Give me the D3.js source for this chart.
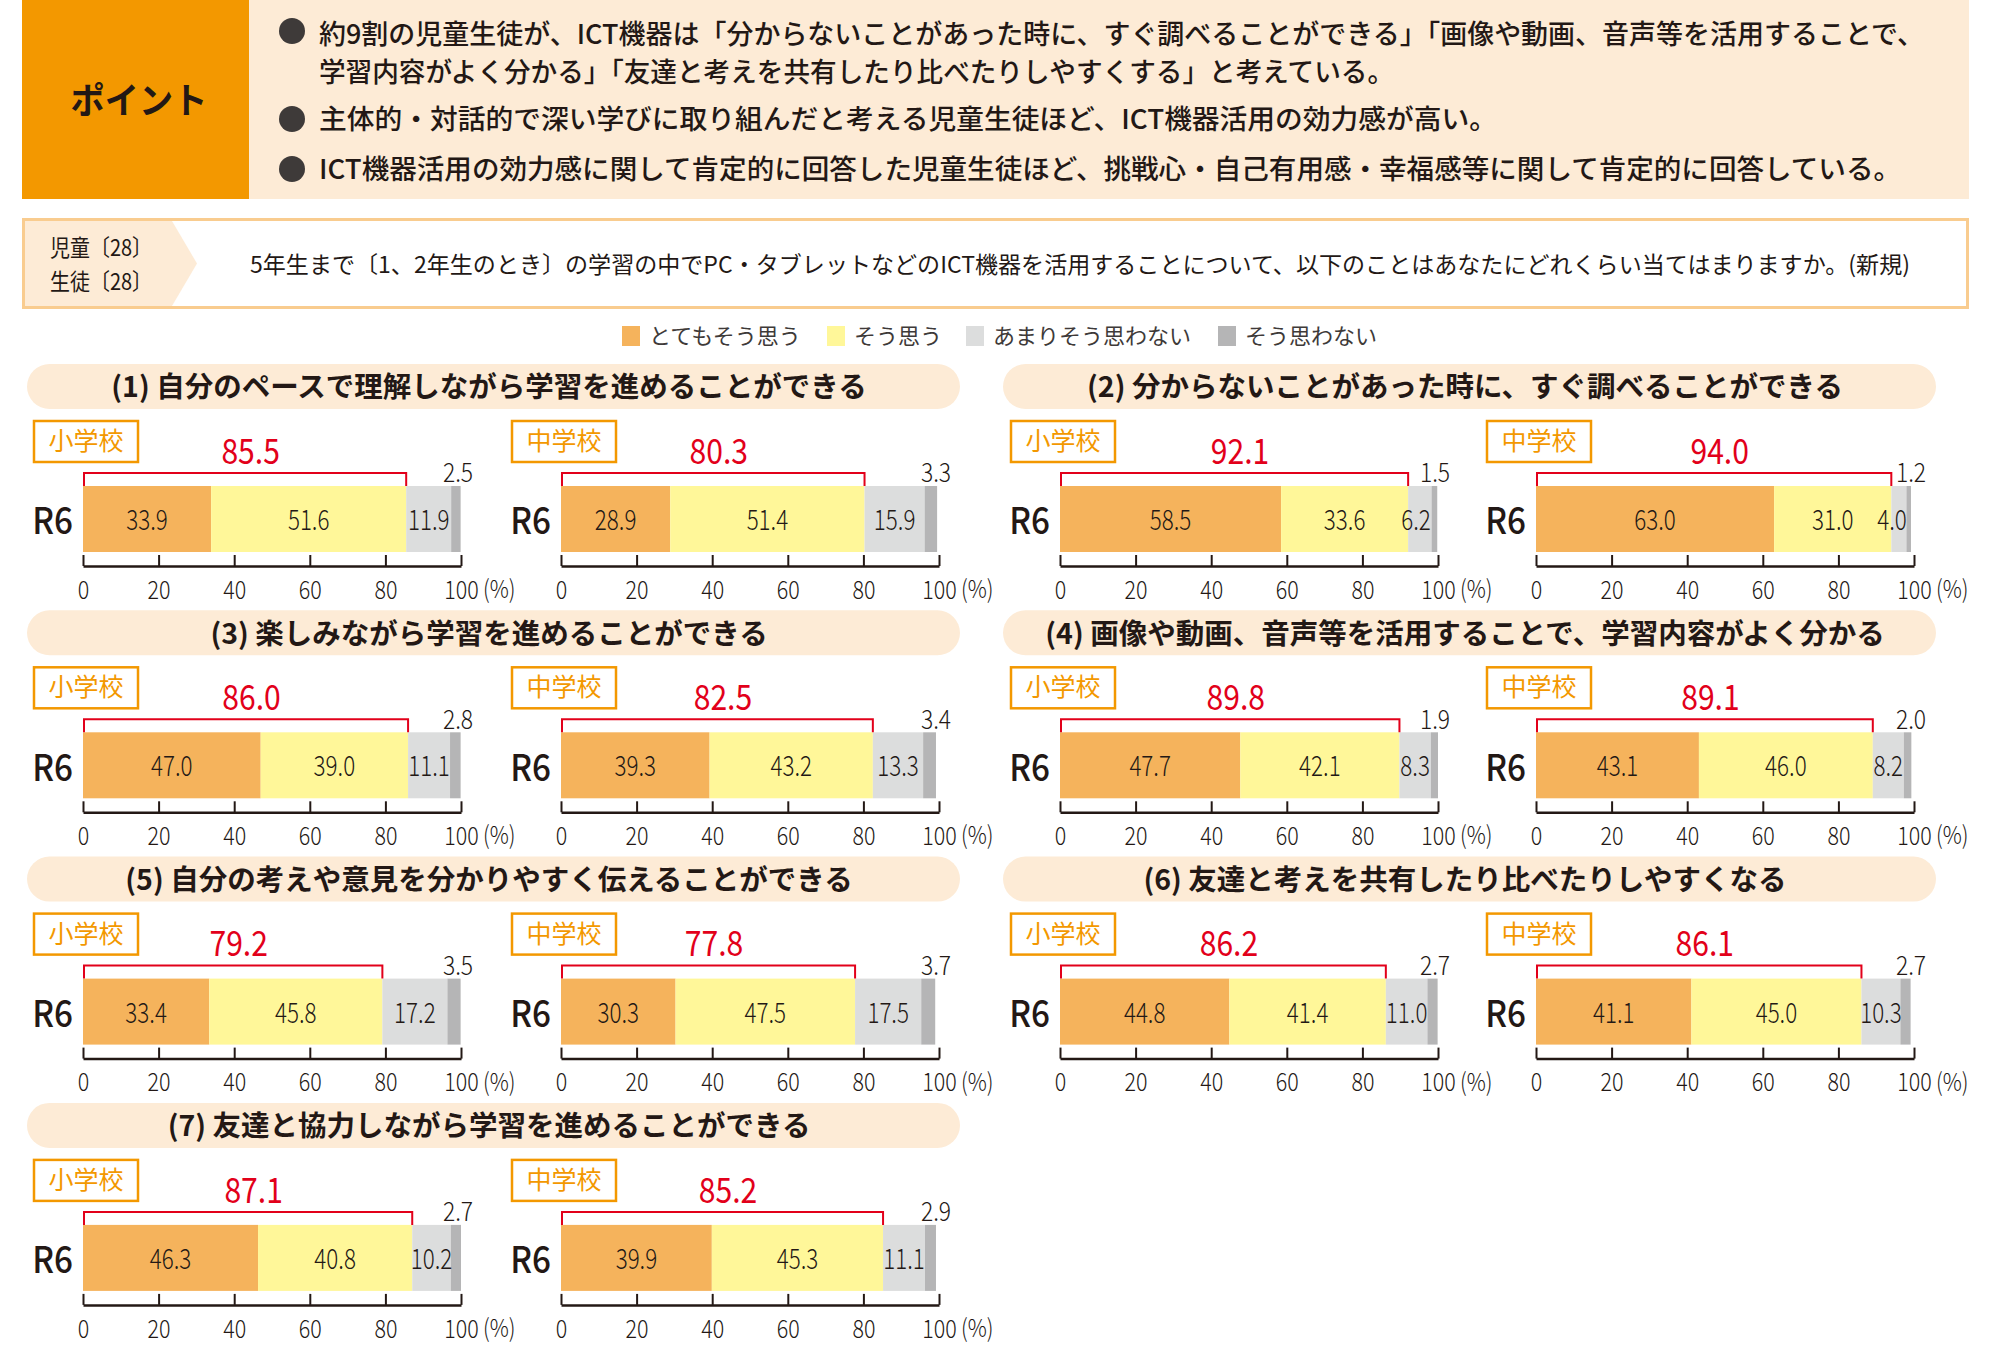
<!DOCTYPE html>
<html>
<head>
<meta charset="utf-8">
<script src="https://cdn.jsdelivr.net/npm/d3@7"></script>
<style>
  body { margin: 0; background: #fff; }
  svg text { font-family: "Noto Sans CJK JP", "Noto Sans", sans-serif; }
</style>
</head>
<body>
<div id="chart"></div>
<script>
// chart data
var categories = ["とてもそう思う", "そう思う", "あまりそう思わない", "そう思わない"];
var colors = ["#f5b35c", "#fff799", "#dcdddd", "#b5b5b6"];
var schools = ["小学校", "中学校"];
var yearLabel = "R6";
var tickValues = [0, 20, 40, 60, 80, 100];

var itemTitles = [
  "(1) 自分のペースで理解しながら学習を進めることができる",
  "(2) 分からないことがあった時に、すぐ調べることができる",
  "(3) 楽しみながら学習を進めることができる",
  "(4) 画像や動画、音声等を活用することで、学習内容がよく分かる",
  "(5) 自分の考えや意見を分かりやすく伝えることができる",
  "(6) 友達と考えを共有したり比べたりしやすくなる",
  "(7) 友達と協力しながら学習を進めることができる"
];

var elementaryValues = [
  [33.9, 51.6, 11.9, 2.5],
  [58.5, 33.6, 6.2, 1.5],
  [47.0, 39.0, 11.1, 2.8],
  [47.7, 42.1, 8.3, 1.9],
  [33.4, 45.8, 17.2, 3.5],
  [44.8, 41.4, 11.0, 2.7],
  [46.3, 40.8, 10.2, 2.7]
];
var juniorValues = [
  [28.9, 51.4, 15.9, 3.3],
  [63.0, 31.0, 4.0, 1.2],
  [39.3, 43.2, 13.3, 3.4],
  [43.1, 46.0, 8.2, 2.0],
  [30.3, 47.5, 17.5, 3.7],
  [41.1, 45.0, 10.3, 2.7],
  [39.9, 45.3, 11.1, 2.9]
];
var elementaryTotals = [85.5, 92.1, 86.0, 89.8, 79.2, 86.2, 87.1];
var juniorTotals = [80.3, 94.0, 82.5, 89.1, 77.8, 86.1, 85.2];

var pointLines = [
  "約9割の児童生徒が、ICT機器は「分からないことがあった時に、すぐ調べることができる」「画像や動画、音声等を活用することで、",
  "学習内容がよく分かる」「友達と考えを共有したり比べたりしやすくする」と考えている。",
  "主体的・対話的で深い学びに取り組んだと考える児童生徒ほど、ICT機器活用の効力感が高い。",
  "ICT機器活用の効力感に関して肯定的に回答した児童生徒ほど、挑戦心・自己有用感・幸福感等に関して肯定的に回答している。"
];
var questionText = "5年生まで〔1、2年生のとき〕の学習の中でPC・タブレットなどのICT機器を活用することについて、以下のことはあなたにどれくらい当てはまりますか。(新規)";
var respondents = ["児童〔28〕", "生徒〔28〕"];

var svgWidth = 2013;
var svgHeight = 1354;
var ink = "#231815";
var orange = "#f39800";
var peach = "#fdebd6";
var red = "#e2001a";
var fmt = d3.format(".1f");

var svg = d3.select("#chart")
  .append("svg")
  .attr("width", svgWidth)
  .attr("height", svgHeight);

// text helper: x,y is the visual centre line, sx squeezes the glyphs
function label(g, x, y, txt, o) {
  o = o || {};
  var fs = o.size || 24;
  return g.append("text")
    .attr("transform", `translate(${x},${y + 0.36 * fs}) scale(${o.sx || 1},1)`)
    .attr("text-anchor", o.anchor || "middle")
    .attr("font-size", fs)
    .attr("font-weight", o.weight || 400)
    .attr("fill", o.fill || ink)
    .text(txt);
}

// ---------- header ----------
svg.append("rect").attr("x", 22).attr("y", 0).attr("width", 227).attr("height", 199).attr("fill", orange);
svg.append("rect").attr("x", 249).attr("y", 0).attr("width", 1720).attr("height", 199).attr("fill", peach);
label(svg, 139, 101, "ポイント", {size: 36, weight: 700, sx: 0.95});

var lineY = [34, 72, 119, 169];
var lineLen = [1605, 1075, 1178, 1582];
pointLines.forEach(function(t, i) {
  label(svg, 319, lineY[i], t, {size: 27, anchor: "start", weight: 500})
    .attr("textLength", lineLen[i])
    .attr("lengthAdjust", "spacingAndGlyphs");
});
[31, 119, 169].forEach(function(cy) {
  svg.append("circle").attr("cx", 292).attr("cy", cy).attr("r", 13).attr("fill", "#3e3a39");
});

// ---------- question box ----------
svg.append("rect").attr("x", 23.5).attr("y", 219.5).attr("width", 1944).attr("height", 88)
  .attr("fill", "#fff").attr("stroke", "#f9cc8f").attr("stroke-width", 3);
svg.append("path").attr("d", "M25,221H172L197,263.5L172,306H25Z").attr("fill", peach);
label(svg, 50, 248, respondents[0], {size: 23, anchor: "start"}).attr("textLength", 102).attr("lengthAdjust", "spacingAndGlyphs");
label(svg, 50, 282, respondents[1], {size: 23, anchor: "start"}).attr("textLength", 102).attr("lengthAdjust", "spacingAndGlyphs");
label(svg, 250, 265, questionText, {size: 23, anchor: "start"})
  .attr("textLength", 1660).attr("lengthAdjust", "spacingAndGlyphs");

// ---------- legend ----------
var legendX = [622, 827, 966, 1218];
var legend = svg.append("g");
categories.forEach(function(c, i) {
  legend.append("rect").attr("x", legendX[i]).attr("y", 326).attr("width", 18).attr("height", 20).attr("fill", colors[i]);
  label(legend, legendX[i] + 27, 336, c, {size: 22, anchor: "start", fill: "#3e3a39"});
});

// ---------- panels ----------
var barW = 378;
var colPill = [27, 1003];
var colBars = [[83, 561], [1060, 1536]];

function drawBar(g, left, top, values, total, school) {
  var x = d3.scaleLinear().domain([0, 100]).range([0, barW]);
  var barTop = top + 122;
  var barH = 66;
  var p = g.append("g").attr("transform", `translate(${left},0)`);

  // school tag
  p.append("rect").attr("x", -49).attr("y", top + 57).attr("width", 104).attr("height", 41)
    .attr("fill", "#fff").attr("stroke", orange).attr("stroke-width", 2.5);
  label(p, 3, top + 77, school, {size: 25, fill: orange});

  // stacked segments
  var stack = [];
  var acc = 0;
  values.forEach(function(v, i) { stack.push({v: v, x0: acc, i: i}); acc += v; });

  p.selectAll("rect.seg").data(stack).enter().append("rect")
    .attr("class", "seg")
    .attr("x", d => x(d.x0))
    .attr("y", barTop)
    .attr("width", d => x(d.v))
    .attr("height", barH)
    .attr("fill", d => colors[d.i]);

  stack.slice(0, 3).forEach(function(d) {
    var cx = Math.min(x(d.x0 + d.v / 2), barW - 22);
    label(p, cx, barTop + 34, fmt(d.v), {size: 28, sx: 0.8, weight: 300});
  });
  label(p, barW - 3, barTop - 13, fmt(values[3]), {size: 26, sx: 0.88, weight: 300});

  // bracket + total
  var bx = x(values[0] + values[1]);
  p.append("path")
    .attr("d", `M1,${barTop}V${top + 109}H${bx}V${barTop}`)
    .attr("fill", "none").attr("stroke", red).attr("stroke-width", 2);
  label(p, bx / 2 + 6, top + 87, fmt(total), {size: 35, sx: 0.86, fill: red});

  // year label
  label(p, -10, barTop + 35, yearLabel, {size: 37, sx: 0.9, anchor: "end", weight: 500});

  // axis
  var axis = p.append("g")
    .attr("transform", `translate(0,${top + 202})`)
    .call(d3.axisBottom(x).tickValues(tickValues).tickSizeInner(-11).tickSizeOuter(0).tickPadding(15));
  axis.select(".domain").attr("stroke", ink).attr("stroke-width", 2.5);
  axis.selectAll(".tick line").attr("stroke", ink).attr("stroke-width", 2);
  axis.selectAll(".tick text")
    .attr("font-size", 25).attr("font-weight", 300).attr("fill", ink)
    .attr("font-family", "Noto Sans CJK JP")
    .attr("transform", "scale(0.86,1)");
  label(p, barW + 22, top + 225, "(%)", {size: 25, sx: 0.85, anchor: "start", weight: 300});
}

itemTitles.forEach(function(title, i) {
  var col = i % 2;
  var row = Math.floor(i / 2);
  var top = 364 + row * 246.3;
  var g = svg.append("g");

  g.append("rect").attr("x", colPill[col]).attr("y", top).attr("width", 933).attr("height", 45)
    .attr("rx", 22.5).attr("fill", peach);
  label(g, colPill[col] + 462, top + 23, title, {size: 28.5, weight: 700});

  drawBar(g, colBars[col][0], top, elementaryValues[i], elementaryTotals[i], schools[0]);
  drawBar(g, colBars[col][1], top, juniorValues[i], juniorTotals[i], schools[1]);
});
</script>
</body>
</html>
